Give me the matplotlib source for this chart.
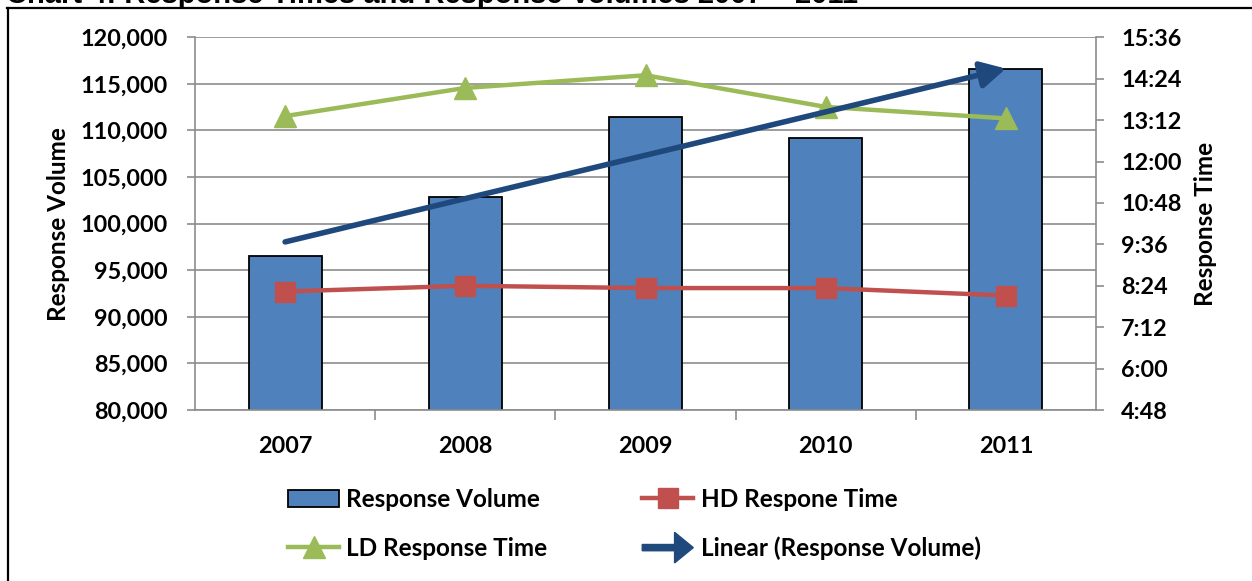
import numpy as np
import matplotlib
matplotlib.use("Agg")
import matplotlib.pyplot as plt
from matplotlib.lines import Line2D
from matplotlib.patches import Patch, FancyArrow
from matplotlib.legend_handler import HandlerBase
from matplotlib.ticker import FuncFormatter, MultipleLocator, FixedLocator

years = ["2007", "2008", "2009", "2010", "2011"]
volume = [96550, 102870, 111450, 109200, 116640]
hd_time = ["8:14", "8:24", "8:20", "8:20", "8:07"]
ld_time = ["13:19", "14:08", "14:30", "13:35", "13:15"]


def to_min(s):
    a, b = s.split(":")
    return int(a) * 60 + int(b)


def fmt_time(v, pos=None):
    v = int(round(v))
    return "%d:%02d" % (v // 60, v % 60)


hd = [to_min(s) for s in hd_time]
ld = [to_min(s) for s in ld_time]

BAR = "#4F81BD"
RED = "#C0504D"
GREEN = "#9BBB59"
NAVY = "#1F497D"
GRID = "#8C8C8C"
TICK_FS = 16.8
LAB_FS = 17.5

plt.rcParams["font.family"] = ["Lato", "DejaVu Sans"]
plt.rcParams["font.weight"] = "bold"

fig = plt.figure(figsize=(12.52, 5.81), dpi=100)
ax = fig.add_axes([195 / 1252, 1 - 410 / 581, (1096 - 195) / 1252, (410 - 37.3) / 581])
x = np.arange(len(years))

ax.bar(x, volume, width=0.405, color=BAR, edgecolor="black", linewidth=1.3, zorder=2)
ax.set_xlim(-0.5, 4.5)
ax.set_ylim(80000, 120000)
ax.yaxis.set_major_locator(MultipleLocator(5000))
ax.yaxis.set_major_formatter(FuncFormatter(lambda v, p: "{:,.0f}".format(v)))
ax.grid(axis="y", color=GRID, linewidth=1.2, zorder=0)
ax.set_axisbelow(True)
ax.set_xticks(x)
ax.set_xticklabels(years, fontsize=TICK_FS, fontweight="bold")
ax.xaxis.set_minor_locator(FixedLocator(x[:-1] + 0.5))
ax.tick_params(axis="x", which="major", length=0, pad=19)
ax.tick_params(axis="x", which="minor", length=7, color=GRID, width=1.2, direction="out")
ax.tick_params(axis="y", length=6, color=GRID, width=1.2, pad=14, labelsize=TICK_FS)
for s in ["top", "right"]:
    ax.spines[s].set_visible(False)
for s in ["left", "bottom"]:
    ax.spines[s].set_color(GRID)
    ax.spines[s].set_linewidth(1.2)
ax.set_ylabel("Response Volume", fontsize=LAB_FS, fontweight="bold", labelpad=7)

# secondary axis for the times
ax2 = ax.twinx()
ax2.set_ylim(288, 936)
ax2.yaxis.set_major_locator(MultipleLocator(72))
ax2.yaxis.set_major_formatter(FuncFormatter(fmt_time))
ax2.tick_params(axis="y", length=6, color=GRID, width=1.2, pad=12, labelsize=TICK_FS)
for s in ["top", "left", "bottom"]:
    ax2.spines[s].set_visible(False)
ax2.spines["right"].set_color(GRID)
ax2.spines["right"].set_linewidth(1.2)
ax2.set_ylabel("Response Time", fontsize=LAB_FS, fontweight="bold", labelpad=9)

ax2.plot(x, hd, color=RED, lw=3.2, marker="s", ms=14.5, zorder=3)
ax2.plot(x, ld, color=GREEN, lw=3.2, marker="^", ms=15.5, zorder=3)

# linear trend of the volumes, drawn with an arrow head
k, b = np.polyfit(x, volume, 1)
ax2.annotate("", xy=(x[-1], k * x[-1] + b), xytext=(x[0], k * x[0] + b),
             xycoords=ax.transData, textcoords=ax.transData,
             arrowprops=dict(arrowstyle="-|>,head_length=1.5,head_width=0.8",
                             color=NAVY, lw=4, shrinkA=0, shrinkB=0),
             zorder=4)


class ArrowHandler(HandlerBase):
    def create_artists(self, legend, orig, xd, yd, w, h, fs, trans):
        arr = FancyArrow(-xd, h / 2 - yd, w, 0, width=4.5, head_width=h * 1.8,
                         head_length=h * 1.1, length_includes_head=True,
                         color=NAVY, transform=trans)
        return [arr]


h_rv = Patch(facecolor=BAR, edgecolor="black", linewidth=1.3)
h_hd = Line2D([], [], color=RED, lw=3.2, marker="s", ms=14.5)
h_ld = Line2D([], [], color=GREEN, lw=3.2, marker="^", ms=15.5)
h_tr = Patch(color=NAVY)
fig.legend([h_rv, h_ld, h_hd, h_tr],
           ["Response Volume", "LD Response Time", "HD Respone Time", "Linear (Response Volume)"],
           handler_map={h_tr: ArrowHandler()},
           ncol=2, loc="upper left", bbox_to_anchor=(288 / 1252, 1 - 488 / 581),
           borderpad=0, borderaxespad=0,
           frameon=False, prop=dict(size=LAB_FS, weight="bold"),
           handlelength=2.1, handletextpad=0.3, columnspacing=3.9, labelspacing=1.05,
           numpoints=1)

# border and the title line sitting above it
fig.add_artist(Line2D([7.5 / 1252, 7.5 / 1252], [0, 1 - 8 / 581], color="black", lw=1.6))
fig.add_artist(Line2D([7 / 1252, 1], [1 - 8 / 581, 1 - 8 / 581], color="black", lw=1.6))
fig.text(6 / 1252, 1 - 3.3 / 581, "Chart 4: Response Times and Response Volumes 2007 \u2013 2011",
         family="Liberation Sans", fontsize=21, fontweight="bold", va="baseline", ha="left")

fig.savefig("out.png", dpi=100, facecolor="white")
